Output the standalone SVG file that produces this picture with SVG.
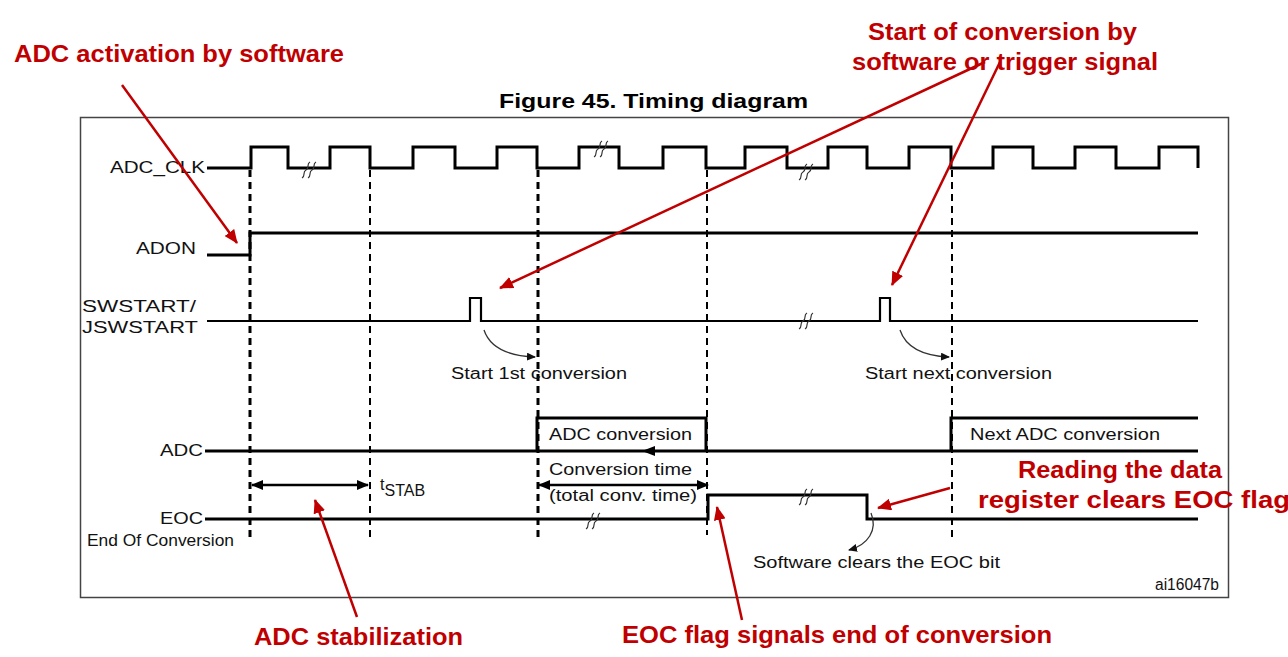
<svg xmlns="http://www.w3.org/2000/svg" width="1288" height="657" viewBox="0 0 1288 657">
<style>
.sig{fill:none;stroke:#000;stroke-width:3}
.thin{fill:none;stroke:#000;stroke-width:2.2}
.dt{stroke:#000;stroke-width:3;stroke-dasharray:7 5}
.dn{stroke:#000;stroke-width:2;stroke-dasharray:7 5}
.lb{font-family:"Liberation Sans",Arial,sans-serif;font-size:16px;fill:#111}
.red{font-family:"Liberation Sans",Arial,sans-serif;font-size:24px;font-weight:bold;fill:#c00000}
.ra{stroke:#c00000;stroke-width:2.5;fill:none;marker-end:url(#rh)}
.brk{fill:none;stroke:#333;stroke-width:1.2}
.ca{fill:none;stroke:#333;stroke-width:1.3;marker-end:url(#bh)}
</style>
<defs>
<marker id="rh" markerWidth="14" markerHeight="12" refX="13" refY="6" orient="auto" markerUnits="userSpaceOnUse"><path d="M0,0 L14,6 L0,12 z" fill="#c00000"/></marker>
<marker id="bh" markerWidth="9" markerHeight="8" refX="8" refY="4" orient="auto" markerUnits="userSpaceOnUse"><path d="M0,0 L9,4 L0,8 z" fill="#111"/></marker>
<marker id="ah" markerWidth="12" markerHeight="10" refX="11" refY="5" orient="auto" markerUnits="userSpaceOnUse"><path d="M0,0 L12,5 L0,10 z" fill="#000"/></marker>
<marker id="as" markerWidth="12" markerHeight="10" refX="1" refY="5" orient="auto" markerUnits="userSpaceOnUse"><path d="M12,0 L0,5 L12,10 z" fill="#000"/></marker>
<g id="brk"><path class="brk" d="M4,-8 C0,-6 4,-2 0,0 C-4,2 0,6 -4,8 M10,-8 C6,-6 10,-2 6,0 C2,2 6,6 2,8"/></g>
</defs>
<rect width="1288" height="657" fill="#fff"/>
<rect x="80.5" y="117.5" width="1148" height="480" fill="none" stroke="#444" stroke-width="1.5"/>
<text x="499" y="108" textLength="309" lengthAdjust="spacingAndGlyphs" font-family="Liberation Sans,Arial,sans-serif" font-size="21" font-weight="bold">Figure 45. Timing diagram</text>
<g id="labels">
<text class="lb" x="110" y="173" textLength="95" lengthAdjust="spacingAndGlyphs">ADC_CLK</text>
<text class="lb" x="136" y="254" textLength="60" lengthAdjust="spacingAndGlyphs">ADON</text>
<text class="lb" x="82" y="312" textLength="114" lengthAdjust="spacingAndGlyphs">SWSTART/</text>
<text class="lb" x="82" y="333" textLength="116" lengthAdjust="spacingAndGlyphs">JSWSTART</text>
<text class="lb" x="160" y="456" textLength="43" lengthAdjust="spacingAndGlyphs">ADC</text>
<text class="lb" x="160" y="524" textLength="43" lengthAdjust="spacingAndGlyphs">EOC</text>
<text x="87" y="546" textLength="147" lengthAdjust="spacingAndGlyphs" font-family="Liberation Sans Narrow,Liberation Sans,sans-serif" font-size="16" fill="#111">End Of Conversion</text>
</g>
<g id="signals">
<path class="sig" d="M207,168 H251 V147 H288 V168 H330 V147 H370 V168 H413 V147 H455 V168 H497 V147 H537 V168 H579 V147 H619 V168 H663 V147 H706 V168 H745 V147 H787 V168 H828 V147 H867 V168 H909 V147 H951 V168 H993 V147 H1033 V168 H1075 V147 H1116 V168 H1159 V147 H1198 V168"/>
<path class="sig" d="M207,255 H250 V233 H1198"/>
<path class="thin" d="M207,321 H470 V298 H481 V321 H880 V298 H890 V321 H1198"/>
<path class="sig" d="M205,451 H1198 M537,451 V418 H706 V451 M951,451 V418 H1198"/>
<path class="sig" d="M205,519 H708 V495 H867 V519 H1198"/>
<use href="#brk" x="306" y="170"/>
<use href="#brk" x="598" y="149"/>
<use href="#brk" x="803" y="172"/>
<use href="#brk" x="803" y="321"/>
<use href="#brk" x="590" y="521"/>
<use href="#brk" x="803" y="497"/>
</g>
<g id="guides">
<line class="dt" x1="250" y1="170" x2="250" y2="540"/>
<line class="dn" x1="370" y1="170" x2="370" y2="540"/>
<line class="dt" x1="538" y1="170" x2="538" y2="537"/>
<line class="dn" x1="707" y1="170" x2="707" y2="535"/>
<line class="dn" x1="952" y1="170" x2="952" y2="540"/>
</g>
<g id="connectors">
<path class="ca" d="M484,330 C490,348 510,356 535,357"/>
<path class="ca" d="M900,330 C906,348 925,356 949,357"/>
<path class="ca" d="M871,513 C878,530 868,545 849,550"/>
<line stroke="#000" stroke-width="2.5" x1="252" y1="485" x2="368" y2="485" marker-start="url(#as)" marker-end="url(#ah)"/>
<line stroke="#000" stroke-width="2.5" x1="539" y1="485" x2="708" y2="485" marker-start="url(#as)" marker-end="url(#ah)"/>
<path d="M642,451 L655,446 L655,456 z" fill="#000"/>
</g>
<g id="texts">
<text class="lb" x="451" y="379" textLength="176" lengthAdjust="spacingAndGlyphs">Start 1st conversion</text>
<text class="lb" x="865" y="379" textLength="187" lengthAdjust="spacingAndGlyphs">Start next conversion</text>
<text class="lb" x="549" y="440" textLength="143" lengthAdjust="spacingAndGlyphs">ADC conversion</text>
<text class="lb" x="970" y="440" textLength="190" lengthAdjust="spacingAndGlyphs">Next ADC conversion</text>
<text class="lb" x="549" y="475" textLength="143" lengthAdjust="spacingAndGlyphs">Conversion time</text>
<text class="lb" x="549" y="501" textLength="148" lengthAdjust="spacingAndGlyphs">(total conv. time)</text>
<text class="lb" x="380" y="490" font-size="17">t<tspan dy="6">STAB</tspan></text>
<text class="lb" x="753" y="568" textLength="247" lengthAdjust="spacingAndGlyphs">Software clears the EOC bit</text>
<text class="lb" x="1155" y="590" font-size="12" textLength="64" lengthAdjust="spacingAndGlyphs">ai16047b</text>
</g>
<g id="annotations">
<text class="red" x="14" y="62" textLength="330" lengthAdjust="spacingAndGlyphs">ADC activation by software</text>
<text class="red" x="868" y="40" textLength="269" lengthAdjust="spacingAndGlyphs">Start of conversion by</text>
<text class="red" x="852" y="70" textLength="306" lengthAdjust="spacingAndGlyphs">software or trigger signal</text>
<text class="red" x="1018" y="478" textLength="204" lengthAdjust="spacingAndGlyphs">Reading the data</text>
<text class="red" x="978" y="508" textLength="312" lengthAdjust="spacingAndGlyphs">register clears EOC flag</text>
<text class="red" x="254" y="645" textLength="209" lengthAdjust="spacingAndGlyphs">ADC stabilization</text>
<text class="red" x="622" y="643" textLength="430" lengthAdjust="spacingAndGlyphs">EOC flag signals end of conversion</text>
<line class="ra" x1="122" y1="85" x2="237" y2="243"/>
<line class="ra" x1="985" y1="62" x2="500" y2="288"/>
<line class="ra" x1="1000" y1="62" x2="892" y2="285"/>
<line class="ra" x1="950" y1="488" x2="878" y2="508"/>
<line class="ra" x1="357" y1="617" x2="315" y2="500"/>
<line class="ra" x1="742" y1="620" x2="717" y2="507"/>
</g>
</svg>
